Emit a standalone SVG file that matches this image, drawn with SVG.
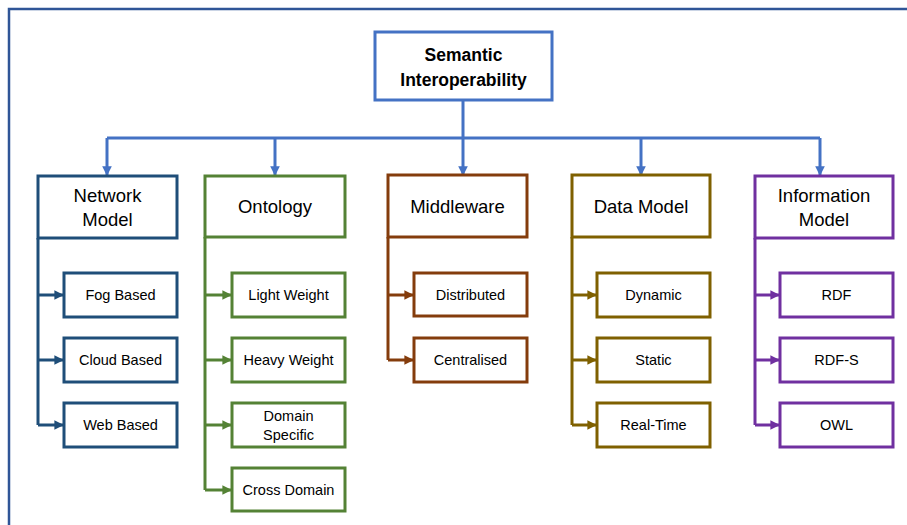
<svg xmlns="http://www.w3.org/2000/svg" width="907" height="525" viewBox="0 0 907 525">
<style>
text{font-family:"Liberation Sans",Arial,sans-serif;fill:#000;text-anchor:middle}
.root{font-size:17.5px;font-weight:bold}
.cat{font-size:18.5px}
.ch{font-size:14.5px}
rect{fill:#fff;stroke-width:3}
.conn path{fill:none;stroke-width:3}
.nav{stroke:#1F4E79}.grn{stroke:#548235}.brn{stroke:#843C0C}.olv{stroke:#7F6000}.prp{stroke:#7030A0}.blu{stroke:#4472C4}
</style>
<defs>
<marker id="aBlu" viewBox="0 0 10 10" refX="9" refY="5" markerWidth="3.2" markerHeight="3.2" orient="auto"><path d="M0,0L10,5L0,10z" fill="#4472C4"/></marker>
<marker id="aNav" viewBox="0 0 10 10" refX="9" refY="5" markerWidth="3.2" markerHeight="3.2" orient="auto"><path d="M0,0L10,5L0,10z" fill="#1F4E79"/></marker>
<marker id="aGrn" viewBox="0 0 10 10" refX="9" refY="5" markerWidth="3.2" markerHeight="3.2" orient="auto"><path d="M0,0L10,5L0,10z" fill="#548235"/></marker>
<marker id="aBrn" viewBox="0 0 10 10" refX="9" refY="5" markerWidth="3.2" markerHeight="3.2" orient="auto"><path d="M0,0L10,5L0,10z" fill="#843C0C"/></marker>
<marker id="aOlv" viewBox="0 0 10 10" refX="9" refY="5" markerWidth="3.2" markerHeight="3.2" orient="auto"><path d="M0,0L10,5L0,10z" fill="#7F6000"/></marker>
<marker id="aPrp" viewBox="0 0 10 10" refX="9" refY="5" markerWidth="3.2" markerHeight="3.2" orient="auto"><path d="M0,0L10,5L0,10z" fill="#7030A0"/></marker>
</defs>
<rect width="907" height="525" fill="#fff" stroke="none"/>
<g id="frame" fill="none" stroke="#2F5597" stroke-width="2.5"><path d="M9,525V9H907"/></g>

<g class="conn" id="connectors">
<path class="blu" d="M463,100V138M107,138H820"/>
<path class="blu" d="M107,138V175" marker-end="url(#aBlu)"/>
<path class="blu" d="M275,138V175" marker-end="url(#aBlu)"/>
<path class="blu" d="M463,138V175" marker-end="url(#aBlu)"/>
<path class="blu" d="M641,138V175" marker-end="url(#aBlu)"/>
<path class="blu" d="M820,138V175" marker-end="url(#aBlu)"/>

<path class="nav" d="M38,238V425"/>
<path class="nav" d="M38,295H63" marker-end="url(#aNav)"/>
<path class="nav" d="M38,360H63" marker-end="url(#aNav)"/>
<path class="nav" d="M38,425H63" marker-end="url(#aNav)"/>

<path class="grn" d="M205,237V490"/>
<path class="grn" d="M205,295H231" marker-end="url(#aGrn)"/>
<path class="grn" d="M205,360H231" marker-end="url(#aGrn)"/>
<path class="grn" d="M205,425H231" marker-end="url(#aGrn)"/>
<path class="grn" d="M205,490H231" marker-end="url(#aGrn)"/>

<path class="brn" d="M388,237V360"/>
<path class="brn" d="M388,295H413" marker-end="url(#aBrn)"/>
<path class="brn" d="M388,360H413" marker-end="url(#aBrn)"/>

<path class="olv" d="M572,237V425"/>
<path class="olv" d="M572,295H596" marker-end="url(#aOlv)"/>
<path class="olv" d="M572,360H596" marker-end="url(#aOlv)"/>
<path class="olv" d="M572,425H596" marker-end="url(#aOlv)"/>

<path class="prp" d="M755,238V425"/>
<path class="prp" d="M755,295H779" marker-end="url(#aPrp)"/>
<path class="prp" d="M755,360H779" marker-end="url(#aPrp)"/>
<path class="prp" d="M755,425H779" marker-end="url(#aPrp)"/>
</g>

<g id="root"><rect class="blu" x="375" y="32" width="177" height="68"/><text class="root" x="463.5" y="61">Semantic</text><text class="root" x="463.5" y="86">Interoperability</text></g>

<g id="network-model"><rect class="nav" x="38" y="176" width="139" height="62"/><text class="cat" x="107.5" y="202">Network</text><text class="cat" x="107.5" y="226">Model</text></g>
<g id="fog-based"><rect class="nav" x="64" y="273" width="113" height="44"/><text class="ch" x="120.5" y="300">Fog Based</text></g>
<g id="cloud-based"><rect class="nav" x="64" y="338" width="113" height="44"/><text class="ch" x="120.5" y="365">Cloud Based</text></g>
<g id="web-based"><rect class="nav" x="64" y="403" width="113" height="44"/><text class="ch" x="120.5" y="430">Web Based</text></g>

<g id="ontology"><rect class="grn" x="205" y="176" width="140" height="61"/><text class="cat" x="275" y="213">Ontology</text></g>
<g id="light-weight"><rect class="grn" x="232" y="273" width="113" height="44"/><text class="ch" x="288.5" y="300">Light Weight</text></g>
<g id="heavy-weight"><rect class="grn" x="232" y="338" width="113" height="44"/><text class="ch" x="288.5" y="365">Heavy Weight</text></g>
<g id="domain-specific"><rect class="grn" x="232" y="403" width="113" height="44"/><text class="ch" x="288.5" y="421">Domain</text><text class="ch" x="288.5" y="440">Specific</text></g>
<g id="cross-domain"><rect class="grn" x="232" y="468" width="113" height="43"/><text class="ch" x="288.5" y="495">Cross Domain</text></g>

<g id="middleware"><rect class="brn" x="388" y="175" width="139" height="62"/><text class="cat" x="457.5" y="213">Middleware</text></g>
<g id="distributed"><rect class="brn" x="414" y="273" width="113" height="43"/><text class="ch" x="470.5" y="300">Distributed</text></g>
<g id="centralised"><rect class="brn" x="414" y="338" width="113" height="44"/><text class="ch" x="470.5" y="365">Centralised</text></g>

<g id="data-model"><rect class="olv" x="572" y="175" width="138" height="62"/><text class="cat" x="641" y="213">Data Model</text></g>
<g id="dynamic"><rect class="olv" x="597" y="273" width="113" height="44"/><text class="ch" x="653.5" y="300">Dynamic</text></g>
<g id="static"><rect class="olv" x="597" y="338" width="113" height="44"/><text class="ch" x="653.5" y="365">Static</text></g>
<g id="real-time"><rect class="olv" x="597" y="403" width="113" height="44"/><text class="ch" x="653.5" y="430">Real-Time</text></g>

<g id="information-model"><rect class="prp" x="755" y="176" width="138" height="62"/><text class="cat" x="824" y="202">Information</text><text class="cat" x="824" y="226">Model</text></g>
<g id="rdf"><rect class="prp" x="780" y="273" width="113" height="44"/><text class="ch" x="836.5" y="300">RDF</text></g>
<g id="rdf-s"><rect class="prp" x="780" y="338" width="113" height="44"/><text class="ch" x="836.5" y="365">RDF-S</text></g>
<g id="owl"><rect class="prp" x="780" y="403" width="113" height="44"/><text class="ch" x="836.5" y="430">OWL</text></g>
</svg>
